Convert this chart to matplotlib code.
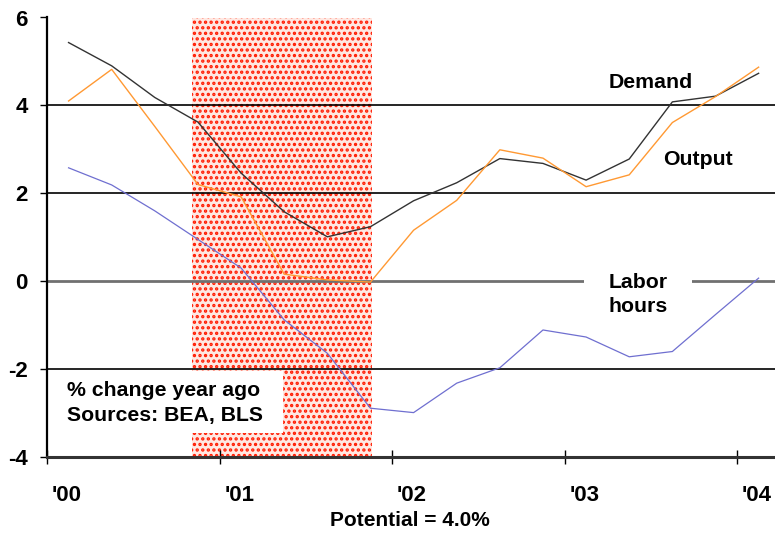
import matplotlib.pyplot as plt
from matplotlib.patches import Rectangle

plt.rcParams['font.family'] = ['Liberation Sans', 'DejaVu Sans']
plt.rcParams['font.weight'] = 'bold'
plt.rcParams['hatch.linewidth'] = 1.6

# quarterly data, % change year ago, Q1 2000 .. Q1 2004
quarters = [2000 + 0.125 + 0.25 * i for i in range(17)]
demand = [5.43, 4.90, 4.18, 3.62, 2.46, 1.58, 1.01, 1.24, 1.83,
          2.24, 2.79, 2.68, 2.30, 2.78, 4.08, 4.21, 4.73]
output = [4.10, 4.82, 3.52, 2.20, 1.92, 0.16, 0.03, -0.02, 1.16,
          1.84, 2.99, 2.80, 2.15, 2.42, 3.61, 4.20, 4.87]
labor = [2.58, 2.19, 1.60, 0.95, 0.30, -0.88, -1.64, -2.89, -2.99,
         -2.32, -1.97, -1.11, -1.27, -1.72, -1.60, -0.76, 0.07]

years = [2000, 2001, 2002, 2003, 2004]
year_labels = ["'00", "'01", "'02", "'03", "'04"]
recession = (2000.84, 2001.885)
y_grid = [6, 4, 2, -2]

fig = plt.figure(figsize=(7.75, 5.33), dpi=100)
ax = fig.add_axes([47 / 775, 1 - 457 / 533, 1 - 47 / 775, (457 - 17.5) / 533])
ax.set_xlim(2000, 2004.22)
ax.set_ylim(-4, 6)

# recession shading
ax.axvspan(recession[0], recession[1], facecolor='#ffe8e2', edgecolor='#ff1a00',
           hatch='...', linewidth=0, zorder=0)

for g in y_grid:
    ax.axhline(g, color='black', lw=1.2, zorder=1)
ax.axhline(0, color='#707070', lw=2.0, zorder=1)

ax.plot(quarters, demand, color='#333333', lw=1.0, zorder=3)
ax.plot(quarters, output, color='#ff9933', lw=1.0, zorder=3)
ax.plot(quarters, labor, color='#6f6fd0', lw=0.9, zorder=3)

# note box
ax.add_patch(Rectangle((2000.0, -3.45), 1.368, 1.41, facecolor='white',
                       edgecolor='none', zorder=2))
ax.text(2000.116, -2.77, '% change year ago\nSources: BEA, BLS', fontsize=15.3,
        ha='left', va='center', linespacing=1.4, zorder=4)

ax.text(2003.50, 4.53, 'Demand', fontsize=15.3, ha='center', va='center', zorder=4)
ax.text(2003.774, 2.76, 'Output', fontsize=15.3, ha='center', va='center', zorder=4)
ax.text(2003.426, -0.31, 'Labor\nhours', fontsize=15.3, ha='center', va='center',
        linespacing=1.35, zorder=2,
        bbox=dict(boxstyle='square,pad=1.15', facecolor='white', edgecolor='none'))

ax.spines['top'].set_visible(False)
ax.spines['right'].set_visible(False)
ax.spines['left'].set_linewidth(1.6)
ax.spines['bottom'].set_linewidth(2.2)
ax.spines['bottom'].set_color('#333333')

ax.set_yticks([-4, -2, 0, 2, 4, 6])
ax.set_yticklabels(['-4', '-2', '0', '2', '4', '6'])
ax.tick_params(axis='y', direction='out', length=5, width=1, pad=9, labelsize=16)

ax.set_xticks(years)
ax.set_xticklabels([])
ax.set_xticks([y + 0.115 for y in years], minor=True)
ax.set_xticklabels(year_labels, minor=True)
ax.tick_params(axis='x', which='major', direction='inout', length=10, width=1)
ax.tick_params(axis='x', which='minor', length=0, pad=20, labelsize=16)

fig.text(410 / 775, 1 - 521 / 533, 'Potential = 4.0%', fontsize=15,
         ha='center', va='center')

fig.savefig('out.png', dpi=100)
